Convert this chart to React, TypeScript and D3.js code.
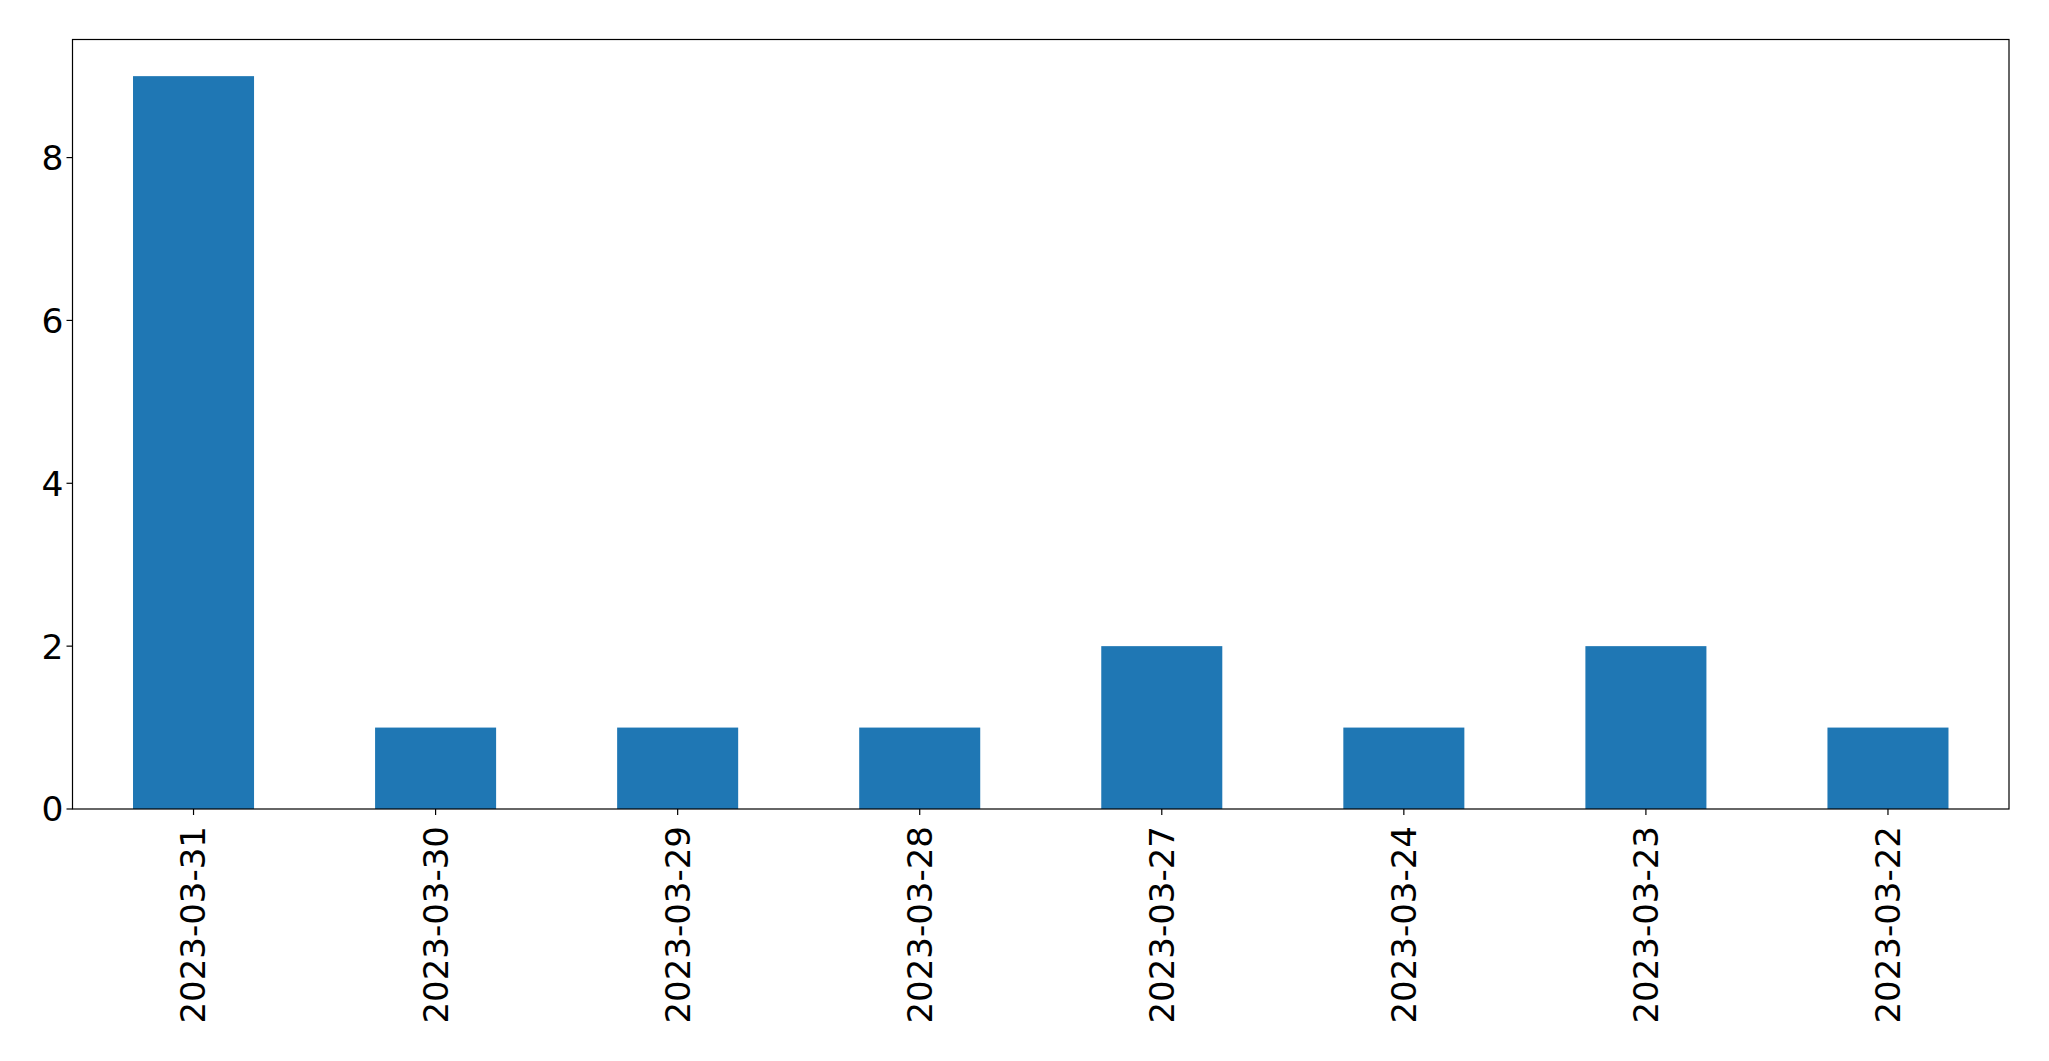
import { useEffect } from 'react';
import * as d3 from 'd3';

const categories = ['2023-03-31', '2023-03-30', '2023-03-29', '2023-03-28', '2023-03-27', '2023-03-24', '2023-03-23', '2023-03-22'];
const counts = [9, 1, 1, 1, 2, 1, 2, 1];
const yTicks = [0, 2, 4, 6, 8];

const W = 2049;
const H = 1061;
const margin = { top: 39.5, right: 40, bottom: 252, left: 72.5 };

export default function App() {
  useEffect(() => {
    document.body.style.margin = '0';
  }, []);

  const innerW = W - margin.left - margin.right;
  const innerH = H - margin.top - margin.bottom;

  const x = d3.scaleBand<string>()
    .domain(categories)
    .range([0, innerW])
    .paddingInner(0.5)
    .paddingOuter(0.25);

  const y = d3.scaleLinear()
    .domain([0, d3.max(counts)! * 1.05])
    .range([innerH, 0]);

  const font = '"DejaVu Sans", sans-serif';

  return (
    <svg width={W} height={H} style={{ display: 'block', background: '#fff' }}>
      <g transform={`translate(${margin.left},${margin.top})`}>
        {/* bars */}
        {categories.map((c, i) => (
          <rect
            key={c}
            x={x(c)}
            y={y(counts[i])}
            width={x.bandwidth()}
            height={innerH - y(counts[i])}
            fill="#1f77b4"
          />
        ))}

        {/* frame */}
        <rect x={0} y={0} width={innerW} height={innerH} fill="none" stroke="#000" strokeWidth={1.2} />

        {/* y ticks */}
        {yTicks.map(t => (
          <g key={t} transform={`translate(0,${y(t)})`}>
            <line x1={-6} x2={0} stroke="#000" strokeWidth={1.2} />
            <text x={-9} dy="0.36em" textAnchor="end" fontFamily={font} fontSize={34.5} fill="#000">
              {t}
            </text>
          </g>
        ))}

        {/* x ticks, rotated labels */}
        {categories.map(c => {
          const cx = x(c)! + x.bandwidth() / 2;
          return (
            <g key={c} transform={`translate(${cx},${innerH})`}>
              <line y1={0} y2={6} stroke="#000" strokeWidth={1.2} />
              <text
                transform="translate(0,17) rotate(-90)"
                dy="0.35em"
                textAnchor="end"
                fontFamily={font}
                fontSize={34}
                fill="#000"
              >
                {c}
              </text>
            </g>
          );
        })}
      </g>
    </svg>
  );
}
